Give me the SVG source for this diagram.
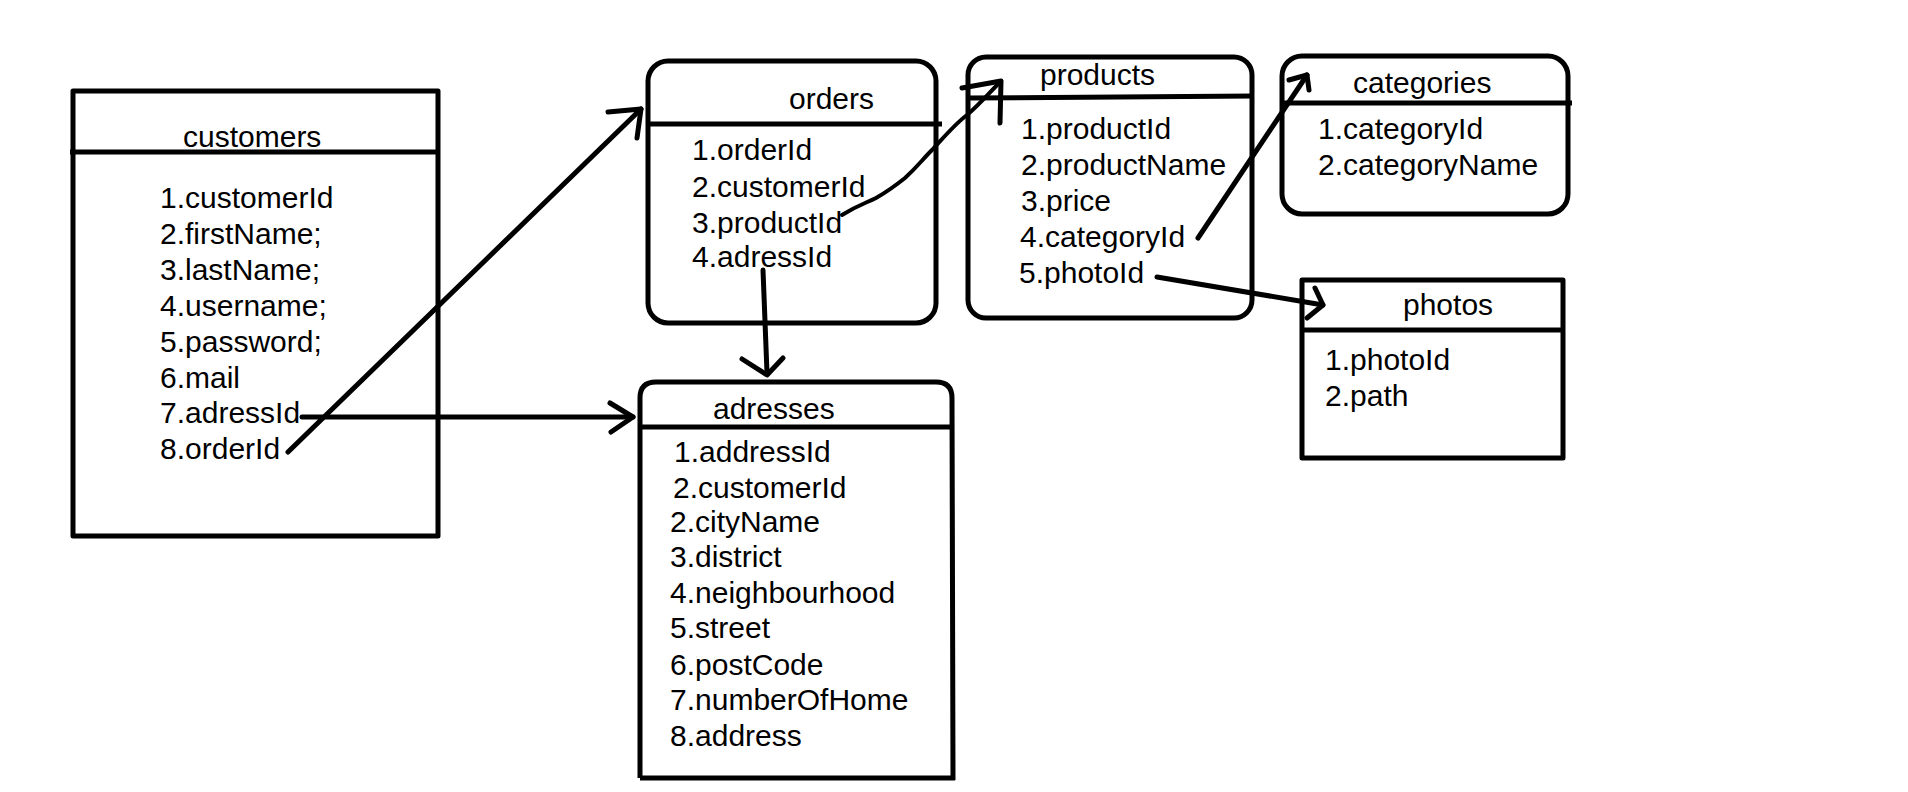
<svg xmlns="http://www.w3.org/2000/svg" width="1908" height="792" viewBox="0 0 1908 792">
  <style>
    .box { fill: none; stroke: #000; stroke-width: 5; stroke-linejoin: round; }
    .hdr { stroke: #000; stroke-width: 5; fill: none; }
    .t { font-family: "Liberation Sans", Arial, sans-serif; font-size: 30px; fill: #000; }
    .link { fill: none; stroke: #000; stroke-width: 5; stroke-linecap: round; stroke-linejoin: round; }
    .thin { stroke-width: 4; }
  </style>
  <rect width="1908" height="792" fill="#fff"/>

  <!-- customers table -->
  <g id="customers">
    <rect class="box" x="73" y="91" width="365" height="445"/>
    <line class="hdr" x1="70" y1="152" x2="438" y2="152"/>
    <text class="t" x="183" y="147">customers</text>
    <text class="t" x="160" y="208">1.customerId</text>
    <text class="t" x="160" y="244">2.firstName;</text>
    <text class="t" x="160" y="280">3.lastName;</text>
    <text class="t" x="160" y="316">4.username;</text>
    <text class="t" x="160" y="352">5.password;</text>
    <text class="t" x="160" y="388">6.mail</text>
    <text class="t" x="160" y="423">7.adressId</text>
    <text class="t" x="160" y="459">8.orderId</text>
  </g>

  <!-- orders table -->
  <g id="orders">
    <rect class="box" x="648" y="61" width="288" height="262" rx="20" ry="20"/>
    <line class="hdr" x1="648" y1="124" x2="942" y2="124"/>
    <text class="t" x="789" y="109">orders</text>
    <text class="t" x="692" y="160">1.orderId</text>
    <text class="t" x="692" y="197">2.customerId</text>
    <text class="t" x="692" y="233">3.productId</text>
    <text class="t" x="692" y="267">4.adressId</text>
  </g>

  <!-- products table -->
  <g id="products">
    <rect class="box" x="968" y="57" width="284" height="261" rx="18" ry="18"/>
    <line class="hdr" x1="967" y1="98" x2="1254" y2="96"/>
    <text class="t" x="1040" y="85">products</text>
    <text class="t" x="1021" y="139">1.productId</text>
    <text class="t" x="1021" y="175">2.productName</text>
    <text class="t" x="1021" y="211">3.price</text>
    <text class="t" x="1020" y="247">4.categoryId</text>
    <text class="t" x="1019" y="283">5.photoId</text>
  </g>

  <!-- categories table -->
  <g id="categories">
    <rect class="box" x="1282" y="56" width="286" height="158" rx="20" ry="20"/>
    <line class="hdr" x1="1282" y1="103" x2="1572" y2="103"/>
    <text class="t" x="1353" y="93">categories</text>
    <text class="t" x="1318" y="139">1.categoryId</text>
    <text class="t" x="1318" y="175">2.categoryName</text>
  </g>

  <!-- photos table -->
  <g id="photos">
    <rect class="box" x="1302" y="280" width="261" height="178"/>
    <line class="hdr" x1="1302" y1="330" x2="1563" y2="330"/>
    <text class="t" x="1403" y="315">photos</text>
    <text class="t" x="1325" y="370">1.photoId</text>
    <text class="t" x="1325" y="406">2.path</text>
  </g>

  <!-- adresses table: rounded top, square bottom -->
  <g id="adresses">
    <path class="box" d="M640 778 L640 398 Q640 382 656 382 L936 382 Q952 382 952 398 L953 780 M640 778 L955 778"/>
    <line class="hdr" x1="640" y1="427" x2="952" y2="427"/>
    <text class="t" x="713" y="419">adresses</text>
    <text class="t" x="674" y="462">1.addressId</text>
    <text class="t" x="673" y="498">2.customerId</text>
    <text class="t" x="670" y="532">2.cityName</text>
    <text class="t" x="670" y="567">3.district</text>
    <text class="t" x="670" y="603">4.neighbourhood</text>
    <text class="t" x="670" y="638">5.street</text>
    <text class="t" x="670" y="675">6.postCode</text>
    <text class="t" x="670" y="710">7.numberOfHome</text>
    <text class="t" x="670" y="746">8.address</text>
  </g>

  <!-- relationships -->
  <g id="connectors">
    <!-- customers.orderId -> orders -->
    <path class="link" d="M288 452 L641 109"/>
    <path class="link" d="M608 112 L641 109 L637 138"/>
    <!-- customers.adressId -> adresses -->
    <path class="link" d="M302 417 L633 417"/>
    <path class="link" d="M610 403 L633 417 L611 432"/>
    <!-- orders.adressId -> adresses -->
    <path class="link" d="M763 270 L767 373"/>
    <path class="link" d="M742 359 L767 375 L783 358"/>
    <!-- orders.productId -> products -->
    <path class="link thin" d="M842 215 C858 205 866 203 876 198 C890 190 895 186 905 178 C918 166 922 160 932 150 C945 136 955 124 967 115 C980 104 990 92 1001 81"/>
    <path class="link" d="M962 88 L1001 81 L1000 123"/>
    <!-- products.categoryId -> categories -->
    <path class="link" d="M1198 238 L1307 75"/>
    <path class="link" d="M1289 80 L1307 75 L1309 90"/>
    <!-- products.photoId -> photos -->
    <path class="link" d="M1157 277 L1323 305"/>
    <path class="link" d="M1315 288 L1323 305 L1307 318"/>
  </g>
</svg>
